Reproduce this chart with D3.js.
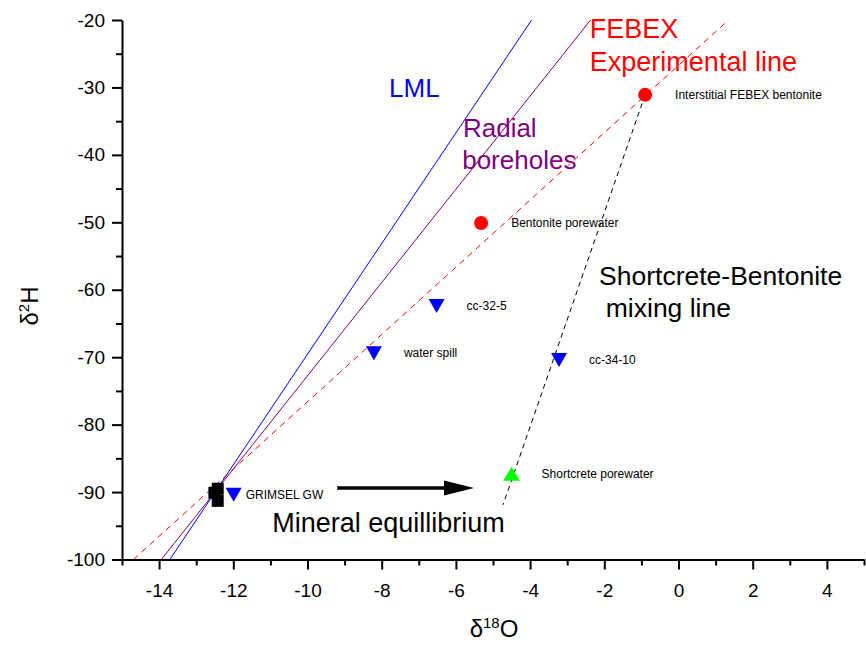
<!DOCTYPE html>
<html>
<head>
<meta charset="utf-8">
<script src="https://cdn.jsdelivr.net/npm/d3@7/dist/d3.min.js"></script>
<style>
  body { margin: 0; background: #fff; }
  svg text { font-family: "Liberation Sans", Arial, sans-serif; }
</style>
</head>
<body>
<div id="chart"></div>
<script>
// data (delta 18O, delta 2H)
const xTicks = [-14, -12, -10, -8, -6, -4, -2, 0, 2, 4];
const xMinor = [-15, -13, -11, -9, -7, -5, -3, -1, 1, 3, 5];
const yTicks = [-100, -90, -80, -70, -60, -50, -40, -30, -20];
const yMinor = [-95, -85, -75, -65, -55, -45, -35, -25];

const lmlLine = [[-13.71, -100], [-3.96, -20]];
const radialLine = [[-13.94, -100], [-2.37, -20]];
const febexLine = [[-14.69, -100], [1.35, -20]];
const mixingLine = [[-0.9, -31.1], [-4.73, -91.9]];

const circleNames = ["Interstitial FEBEX bentonite", "Bentonite porewater"];
const circleO = [-0.9, -5.32];
const circleH = [-31.1, -50.1];

const downNames = ["cc-32-5", "water spill", "cc-34-10", "GRIMSEL GW"];
const downO = [-6.52, -8.21, -3.22, -11.99];
const downH = [-62.4, -69.4, -70.4, -90.4];

const upNames = ["Shortcrete porewater"];
const upO = [-4.5];
const upH = [-87.3];

const squareO = [-12.42, -12.42, -12.51];
const squareH = [-89.5, -91.3, -90.1];

const arrowLine = [[-9.2, -89.4], [-5.51, -89.4]];

// free text on the plot: [text, x, y, colour, size]
const notes = [
  ["LML", -7.8, -31.46, "#0000ff", 26],
  ["Radial", -5.81, -37.3, "#800080", 26],
  ["boreholes", -5.83, -42.14, "#800080", 26],
  ["FEBEX", -2.39, -22.62, "#ff0000", 27],
  ["Experimental line", -2.39, -27.52, "#ff0000", 27],
  ["Shortcrete-Bentonite", -2.14, -59.29, "#000", 26.5],
  ["mixing line", -1.96, -64.04, "#000", 26.5],
  ["Mineral equillibrium", -10.95, -95.87, "#000", 27]
];

const width = 866, height = 648;

const svg = d3.select("#chart").append("svg")
  .attr("width", width)
  .attr("height", height);

const x = d3.scaleLinear().domain([-15, 5]).range([122, 864]);
const y = d3.scaleLinear().domain([-100, -20]).range([559.5, 20]);

// plain hyphen for negatives, like the original
const fmt = d => String(d);

//axes
const xAxis = svg.append("g")
  .attr("transform", `translate(0,${y(-100)})`)
  .call(d3.axisBottom(x).tickValues(xTicks).tickSize(10).tickSizeOuter(0).tickFormat(fmt));
xAxis.append("g")
  .call(d3.axisBottom(x).tickValues(xMinor).tickSize(6).tickFormat(""))
  .select(".domain").remove();

const yAxis = svg.append("g")
  .attr("transform", `translate(${x(-15)},0)`)
  .call(d3.axisLeft(y).tickValues(yTicks).tickSize(10).tickSizeOuter(0).tickFormat(fmt));
yAxis.append("g")
  .call(d3.axisLeft(y).tickValues(yMinor).tickSize(6).tickFormat(""))
  .select(".domain").remove();

svg.selectAll(".domain, .tick line")
  .attr("stroke", "#000")
  .attr("stroke-width", 2);

xAxis.selectAll(".tick text")
  .attr("y", 37)
  .attr("dy", null)
  .attr("font-size", 19)
  .attr("fill", "#000");
yAxis.selectAll(".tick text")
  .attr("x", -17)
  .attr("font-size", 19)
  .attr("fill", "#000");

// axis titles
const xTitle = svg.append("text")
  .attr("x", 494)
  .attr("y", 637)
  .attr("text-anchor", "middle")
  .attr("font-size", 24);
xTitle.append("tspan").text("δ");
xTitle.append("tspan").text("18").attr("font-size", 15).attr("dy", -9);
xTitle.append("tspan").text("O").attr("dy", 9);

const yTitle = svg.append("text")
  .attr("transform", "translate(38,306) rotate(-90)")
  .attr("text-anchor", "middle")
  .attr("font-size", 24);
yTitle.append("tspan").text("δ");
yTitle.append("tspan").text("2").attr("font-size", 15).attr("dy", -9);
yTitle.append("tspan").text("H").attr("dy", 9);

// reference lines
const line = d3.line().x(d => x(d[0])).y(d => y(d[1]));

svg.append("path").datum(lmlLine)
  .attr("d", line).attr("fill", "none")
  .attr("stroke", "#0000ff").attr("stroke-width", 1);

svg.append("path").datum(radialLine)
  .attr("d", line).attr("fill", "none")
  .attr("stroke", "#800080").attr("stroke-width", 1);

svg.append("path").datum(febexLine)
  .attr("d", line).attr("fill", "none")
  .attr("stroke", "#ff0000").attr("stroke-width", 1)
  .attr("stroke-dasharray", "6,5");

svg.append("path").datum(mixingLine)
  .attr("d", line).attr("fill", "none")
  .attr("stroke", "#000").attr("stroke-width", 1)
  .attr("stroke-dasharray", "5,4");

// arrow
const arrowEnd = x(arrowLine[1][0]);
svg.append("line")
  .attr("x1", x(arrowLine[0][0]))
  .attr("x2", arrowEnd - 28)
  .attr("y1", y(arrowLine[0][1]))
  .attr("y2", y(arrowLine[1][1]))
  .attr("stroke", "#000")
  .attr("stroke-width", 3.5);
svg.append("path")
  .attr("d", `M${arrowEnd},${y(arrowLine[1][1])} l-30,-7.5 l0,15 Z`)
  .attr("fill", "#000");

// markers
svg.selectAll(".sq")
  .data(squareO)
  .enter().append("rect")
  .attr("x", d => x(d) - 6)
  .attr("y", (d, i) => y(squareH[i]) - 6)
  .attr("width", 12)
  .attr("height", 12)
  .attr("fill", "#000");

const triDown = "M-8,-7 L8,-7 L0,7 Z";
const triUp = "M-8.5,7 L8.5,7 L0,-7 Z";

svg.selectAll(".down")
  .data(downO)
  .enter().append("path")
  .attr("d", triDown)
  .attr("transform", (d, i) => `translate(${x(d)},${y(downH[i])})`)
  .attr("fill", "#0000ff");

svg.selectAll(".up")
  .data(upO)
  .enter().append("path")
  .attr("d", triUp)
  .attr("transform", (d, i) => `translate(${x(d)},${y(upH[i])})`)
  .attr("fill", "#00ff00");

svg.selectAll(".dot")
  .data(circleO)
  .enter().append("circle")
  .attr("cx", d => x(d))
  .attr("cy", (d, i) => y(circleH[i]))
  .attr("r", 7)
  .attr("fill", "#ff0000");

// point labels
const labelDx = {"GRIMSEL GW": 12};
function pointLabels(names, xs, ys) {
  svg.selectAll(null)
    .data(names)
    .enter().append("text")
    .text(d => d)
    .attr("x", (d, i) => x(xs[i]) + (labelDx[d] || 30))
    .attr("y", (d, i) => y(ys[i]) + 4)
    .attr("font-size", 12)
    .attr("fill", "#000");
}
pointLabels(circleNames, circleO, circleH);
pointLabels(downNames, downO, downH);
pointLabels(upNames, upO, upH);

// annotations
svg.selectAll(".note")
  .data(notes)
  .enter().append("text")
  .text(d => d[0])
  .attr("x", d => x(d[1]))
  .attr("y", d => y(d[2]))
  .attr("fill", d => d[3])
  .attr("font-size", d => d[4]);
</script>
</body>
</html>
